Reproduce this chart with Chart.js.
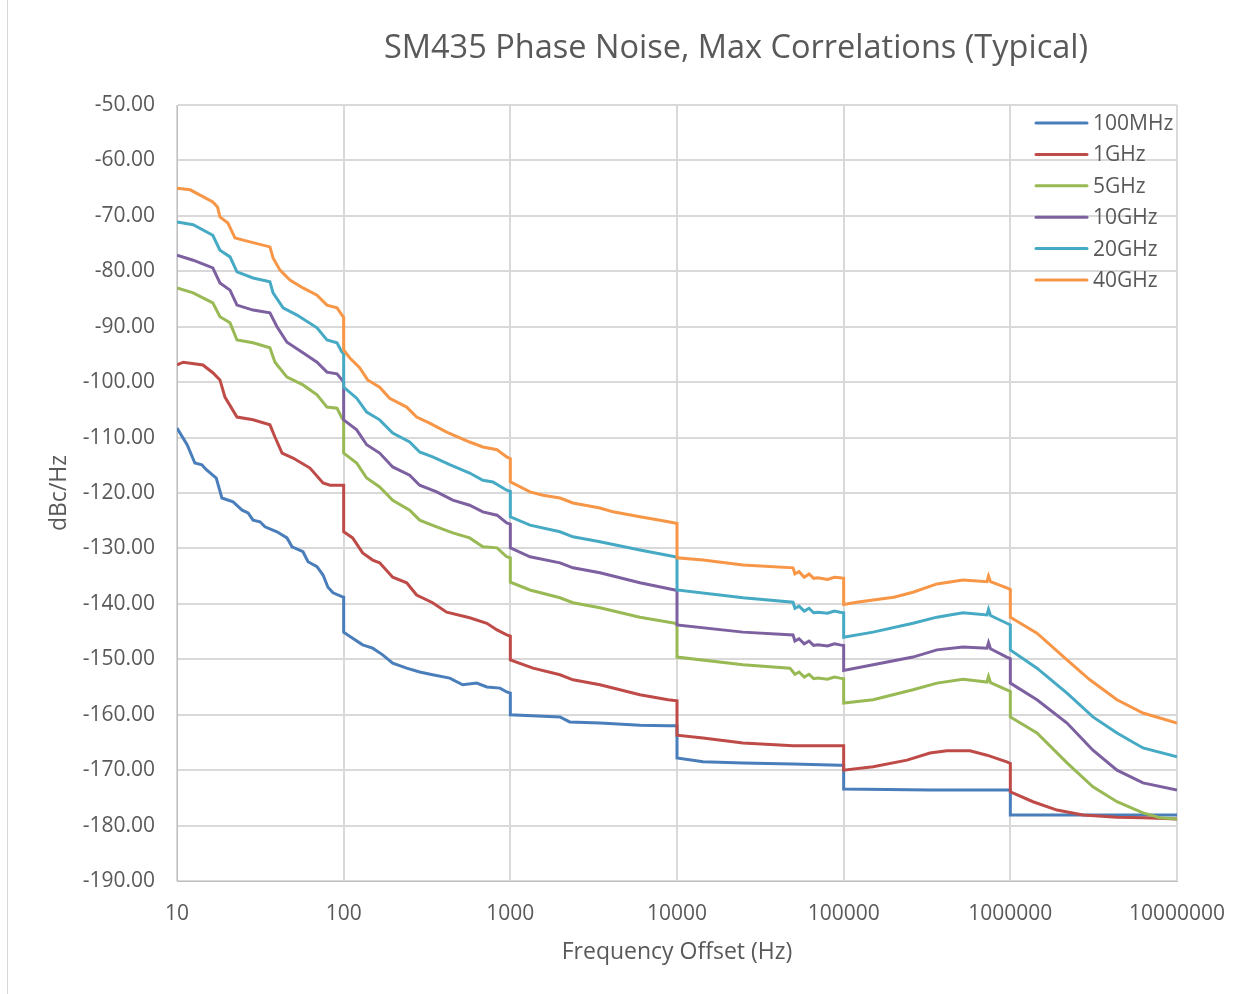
<!DOCTYPE html>
<html>
<head>
<meta charset="utf-8">
<title>SM435 Phase Noise</title>
<script src="https://cdn.jsdelivr.net/npm/chart.js@4.4.1/dist/chart.umd.min.js"></script>
<style>
  html, body { margin: 0; padding: 0; background: #fff; }
  canvas { display: block; }
</style>
</head>
<body>
<canvas id="pnChart" width="1253" height="994"></canvas>
<script>
'use strict';

// Phase noise readings (offset in Hz, level in dBc/Hz), one pair of arrays per carrier.
// Repeated offsets at each decade give the vertical steps of the plot.
const seriesNames = ['100MHz', '1GHz', '5GHz', '10GHz', '20GHz', '40GHz'];
const seriesColors = ['#4a7ebb', '#be4b48', '#98b954', '#7d60a0', '#46aac5', '#f79646'];
const decadeTicks = [10, 100, 1000, 10000, 100000, 1000000, 10000000];
const yMin = -190;
const yMax = -50;

const f100M = [10, 11.5, 12.8, 14.1, 15, 17.2, 18.6, 21.7, 24.6, 26.7, 28.6, 31.5, 33.7, 39.8, 45.7, 49, 57, 61.1, 69.2, 75.2, 80.5, 86.3, 97.7, 100,
  100, 113.2, 130, 149.3, 171.4, 196.9, 238.8, 285.7, 341.8, 432.8, 517.6, 628.7, 722.8, 866.9, 951, 1000,
  1000, 1986, 2270, 3450, 5989, 8840, 10000,
  10000, 14320, 24890, 49660, 95060, 100000,
  100000, 329400, 952000, 1000000,
  1000000, 10000000];
const pn100M = [-108.3, -111.3, -114.6, -114.9, -115.8, -117.3, -120.9, -121.6, -123.1, -123.6, -124.9, -125.2, -126.1, -127, -128.1, -129.7, -130.6, -132.4, -133.3, -134.8, -137, -138, -138.7, -138.8,
  -145.1, -146.2, -147.4, -148, -149.2, -150.7, -151.6, -152.3, -152.8, -153.4, -154.6, -154.3, -155, -155.2, -155.9, -156.1,
  -160, -160.4, -161.3, -161.5, -161.9, -162, -162,
  -167.8, -168.5, -168.7, -168.9, -169.1, -169.1,
  -173.4, -173.6, -173.6, -173.6,
  -178.1, -178.1];

const f1G = [10, 10.9, 14.3, 16.4, 18.1, 19.4, 22.9, 28.6, 36.1, 38.7, 42.7, 49.7, 62.8, 75.2, 82.8, 100,
  100, 113.2, 130, 149.3, 164.4, 196.9, 238.8, 274, 341.8, 415, 570, 723, 832, 951, 1000,
  1000, 1368, 1986, 2376, 3450, 5989, 8840, 10000,
  10000, 14320, 24890, 49660, 95060, 100000,
  100000, 150200, 239900, 329400, 416300, 572000, 724400, 952000, 1000000,
  1000000, 1368000, 1905000, 2727000, 4365000, 6250000, 10000000];
const pn1G = [-96.9, -96.4, -96.9, -98.3, -99.6, -102.7, -106.3, -106.8, -107.7, -109.9, -112.8, -113.7, -115.5, -118.2, -118.6, -118.6,
  -127, -128.1, -130.8, -132.1, -132.6, -135.2, -136.2, -138.4, -139.8, -141.5, -142.5, -143.5, -144.7, -145.6, -145.8,
  -150.1, -151.6, -152.8, -153.7, -154.6, -156.4, -157.3, -157.5,
  -163.7, -164.2, -165.1, -165.6, -165.6, -165.6,
  -170, -169.4, -168.2, -166.9, -166.5, -166.5, -167.3, -168.5, -168.8,
  -173.9, -175.7, -177.2, -178.1, -178.5, -178.6, -178.8];

const f5G = [10, 12.5, 16.4, 18.1, 20.8, 22.9, 28.6, 36.1, 38.7, 45.7, 57, 69.2, 79.4, 91.2, 97.7, 100,
  100, 119.7, 137.4, 164.4, 196.9, 248.9, 285.7, 361.4, 451.4, 570, 684, 832, 951, 1000,
  1000, 1312, 1986, 2376, 3450, 5989, 9726, 10000,
  10000, 24890, 47640, 51000, 54000, 58000, 62000, 66000, 70000, 80000, 88000, 95000, 100000,
  100000, 150200, 260500, 362900, 519600, 724400, 740000, 760000, 952000, 1000000,
  1000000, 1445000, 2188000, 3130000, 4365000, 6250000, 7910000, 10000000];
const pn5G = [-83, -83.9, -85.7, -88.2, -89.3, -92.4, -92.9, -93.8, -96.4, -99.1, -100.5, -102.3, -104.5, -104.7, -106.5, -106.8,
  -112.8, -114.6, -117.3, -118.9, -121.3, -123.1, -124.9, -126.1, -127.2, -128.1, -129.7, -129.9, -131.5, -131.7,
  -136.1, -137.5, -138.9, -139.8, -140.7, -142.4, -143.5, -143.6,
  -149.6, -151, -151.6, -152.7, -152.3, -153.2, -152.7, -153.5, -153.4, -153.6, -153.2, -153.4, -153.5,
  -157.9, -157.3, -155.5, -154.3, -153.6, -154.1, -153.1, -154.2, -155.5, -155.8,
  -160.4, -163.3, -168.7, -173, -175.7, -177.7, -178.6, -178.8];

const f10G = [10, 12.5, 16.4, 18.1, 20.8, 22.9, 28.6, 36.1, 39.8, 45.7, 57, 69.2, 79.4, 91.2, 97.7, 100,
  100, 119.7, 137.4, 164.4, 196.9, 248.9, 285.7, 361.4, 451.4, 570, 684, 832, 951, 1000,
  1000, 1312, 1986, 2376, 3450, 5989, 9726, 10000,
  10000, 24890, 49660, 51000, 54000, 58000, 62000, 66000, 70000, 80000, 88000, 95000, 100000,
  100000, 150200, 260500, 362900, 519600, 724400, 740000, 760000, 952000, 1000000,
  1000000, 1445000, 2188000, 3130000, 4365000, 6250000, 10000000];
const pn10G = [-77.1, -78, -79.4, -82.1, -83.4, -86.1, -87, -87.5, -90, -92.8, -94.7, -96.4, -98.2, -98.5, -99.6, -100,
  -106.8, -108.6, -111.3, -112.8, -115.3, -116.8, -118.6, -119.8, -121.3, -122.2, -123.4, -124, -125.4, -125.6,
  -129.9, -131.5, -132.6, -133.5, -134.4, -136.2, -137.5, -137.6,
  -143.8, -145.1, -145.6, -146.7, -146.3, -147.2, -146.7, -147.5, -147.4, -147.6, -147.2, -147.4, -147.5,
  -152, -151, -149.6, -148.3, -147.8, -148, -147, -148.1, -149.6, -149.9,
  -154.3, -157.3, -161.5, -166.4, -170, -172.3, -173.6];

const f20G = [10, 12.5, 16.4, 18.1, 20.8, 22.9, 28.6, 36.1, 37.7, 43.3, 52.5, 69.2, 79.4, 91.2, 97.7, 100,
  100, 119.7, 137.4, 164.4, 196.9, 248.9, 285.7, 341.8, 432.8, 570, 684, 786, 951, 1000,
  1000, 1312, 1986, 2376, 3450, 5989, 9726, 10000,
  10000, 24890, 49660, 51000, 54000, 58000, 62000, 66000, 70000, 80000, 88000, 95000, 100000,
  100000, 150200, 260500, 362900, 519600, 724400, 740000, 760000, 952000, 1000000,
  1000000, 1445000, 2188000, 3130000, 4365000, 6250000, 10000000];
const pn20G = [-71.1, -71.6, -73.5, -76.2, -77.4, -80.1, -81.2, -81.9, -83.9, -86.6, -87.9, -90.2, -92.4, -92.9, -94.6, -94.8,
  -100.9, -102.9, -105.4, -106.8, -109.2, -110.8, -112.6, -113.5, -114.9, -116.4, -117.7, -118, -119.5, -119.7,
  -124.3, -125.8, -127, -127.9, -128.8, -130.3, -131.5, -131.6,
  -137.5, -138.9, -139.7, -140.8, -140.4, -141.3, -140.8, -141.6, -141.5, -141.7, -141.3, -141.5, -141.6,
  -146, -145.1, -143.5, -142.4, -141.6, -142, -141, -142.1, -143.5, -143.8,
  -148.3, -151.6, -156.1, -160.4, -163.3, -166, -167.6];

const f40G = [10, 12, 16.4, 17.5, 18.1, 20.2, 22.3, 27.4, 36.1, 37.7, 41.5, 47.6, 57, 69.2, 79.4, 91.2, 97.7, 100,
  100, 108.6, 124.7, 139.3, 164.4, 188.8, 238.8, 274, 327.8, 415, 570, 684, 832, 951, 1000,
  1000, 1312, 1570, 1986, 2376, 3450, 4132, 5989, 7908, 9726, 10000,
  10000, 14320, 24890, 49660, 51000, 54000, 58000, 62000, 66000, 70000, 80000, 88000, 95000, 100000,
  100000, 120000, 150200, 200000, 260500, 362900, 519600, 724400, 740000, 760000, 952000, 1000000,
  1000000, 1445000, 2188000, 3000000, 4365000, 6250000, 10000000];
const pn40G = [-65, -65.3, -67.5, -68.4, -70.2, -71.3, -74, -74.7, -75.6, -77.6, -79.8, -81.6, -83, -84.3, -86.1, -86.6, -87.9, -88.3,
  -94.2, -95.6, -97.4, -99.6, -100.9, -102.9, -104.5, -106.3, -107.4, -109, -110.8, -111.7, -112.2, -113.5, -113.8,
  -118, -119.8, -120.4, -120.9, -121.8, -122.7, -123.4, -124.3, -124.9, -125.4, -125.5,
  -131.7, -132.1, -133, -133.5, -134.6, -134.2, -135.2, -134.6, -135.4, -135.3, -135.6, -135.2, -135.3, -135.4,
  -140.1, -139.7, -139.3, -138.8, -137.9, -136.4, -135.7, -136, -135, -136, -137.1, -137.4,
  -142.4, -145.3, -150.1, -153.7, -157.3, -159.7, -161.5];

const seriesOffsets = [f100M, f1G, f5G, f10G, f20G, f40G];
const seriesLevels = [pn100M, pn1G, pn5G, pn10G, pn20G, pn40G];

const textColor = '#595959';
const fontFamily = '"Open Sans", "Noto Sans", sans-serif';

function toPoints(xs, ys) {
  return xs.map((x, i) => ({ x, y: ys[i] }));
}

// Title sits right of centre, legend inside the plot area top right (no box)
const decorPlugin = {
  id: 'decor',
  beforeDraw(chart) {
    const { ctx } = chart;
    ctx.save();
    ctx.fillStyle = '#fff';
    ctx.fillRect(0, 0, chart.width, chart.height);
    ctx.strokeStyle = '#d9d9d9';
    ctx.lineWidth = 1;
    ctx.beginPath();
    ctx.moveTo(7.5, 0);
    ctx.lineTo(7.5, chart.height);
    ctx.stroke();
    ctx.restore();
  },
  afterDatasetsDraw(chart) {
    const { ctx } = chart;
    ctx.save();
    ctx.fillStyle = textColor;
    ctx.font = '32.5px ' + fontFamily;
    ctx.textAlign = 'center';
    ctx.textBaseline = 'middle';
    ctx.fillText('SM435 Phase Noise, Max Correlations (Typical)', 736, 49);

    ctx.font = '21px ' + fontFamily;
    ctx.textAlign = 'left';
    chart.data.datasets.forEach((ds, i) => {
      const y = 123 + i * 31.4;
      ctx.strokeStyle = ds.borderColor;
      ctx.lineWidth = 3;
      ctx.lineCap = 'round';
      ctx.beginPath();
      ctx.moveTo(1036, y);
      ctx.lineTo(1087, y);
      ctx.stroke();
      ctx.fillText(ds.label, 1093, y + 1);
    });
    ctx.restore();
  },
};

function buildChart() {
  const canvasEl = document.getElementById('pnChart');
  const ctx = canvasEl.getContext('2d');
  const datasets = seriesNames.map((name, i) => ({
    label: name,
    data: toPoints(seriesOffsets[i], seriesLevels[i]),
    borderColor: seriesColors[i],
    backgroundColor: seriesColors[i],
    borderWidth: 3,
    pointRadius: 0,
    tension: 0,
    fill: false,
    order: seriesNames.length - i, // later series drawn on top, like the original
  }));

  return new Chart(ctx, {
    type: 'line',
    data: { datasets },
    plugins: [decorPlugin],
    options: {
      responsive: false,
      animation: false,
      devicePixelRatio: 1,
      layout: { padding: { top: 105, right: 76, bottom: 0, left: 0 } },
      plugins: {
        legend: { display: false },
        title: { display: false },
        tooltip: { enabled: false },
      },
      scales: {
        x: {
          type: 'logarithmic',
          min: 10,
          max: 10000000,
          afterBuildTicks: scale => {
            scale.ticks = decadeTicks.map(v => ({ value: v }));
          },
          afterFit: scale => {
            scale.height = 113;
          },
          grid: { color: '#d9d9d9', lineWidth: 2, drawTicks: false },
          border: { color: '#bfbfbf', width: 1 },
          ticks: {
            color: textColor,
            padding: 20,
            maxRotation: 0,
            autoSkip: false,
            font: { family: fontFamily, size: 21 },
            callback: v => String(v),
          },
          title: {
            display: true,
            text: 'Frequency Offset (Hz)',
            color: textColor,
            font: { family: fontFamily, size: 23 },
            padding: { top: 0, bottom: 28 },
          },
        },
        y: {
          type: 'linear',
          min: yMin,
          max: yMax,
          afterFit: scale => {
            scale.width = 177;
          },
          grid: { color: '#d9d9d9', lineWidth: 2, drawTicks: false },
          border: { color: '#bfbfbf', width: 1 },
          ticks: {
            stepSize: 10,
            color: textColor,
            padding: 22,
            font: { family: fontFamily, size: 21 },
            callback: v => v.toFixed(2),
          },
          title: {
            display: true,
            text: 'dBc/Hz',
            color: textColor,
            font: { family: fontFamily, size: 23 },
            padding: { top: 46, bottom: 0 },
          },
        },
      },
    },
  });
}

buildChart();
</script>
</body>
</html>
